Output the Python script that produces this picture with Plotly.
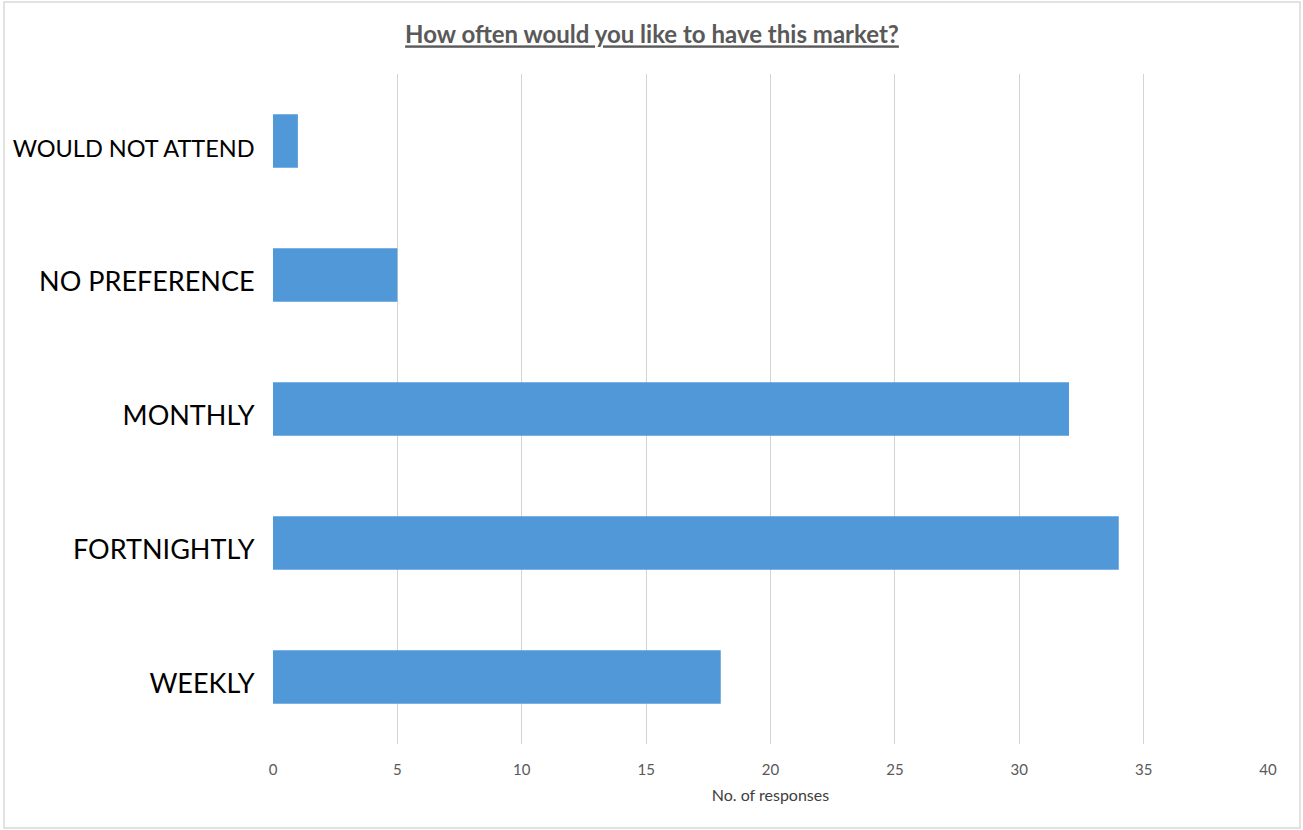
import plotly.graph_objects as go

categories = ["WEEKLY", "FORTNIGHTLY", "MONTHLY", "NO PREFERENCE", "WOULD NOT ATTEND"]
label_sizes = [27, 27, 27, 27, 23.5]
values = [18, 34, 32, 5, 1]
x_ticks = [0, 5, 10, 15, 20, 25, 30, 35, 40]
title_text = "How often would you like to have this market?"
x_title = "No. of responses"

W, H = 1303, 830
L, R, T, B = 273, 35, 74, 86
pw, ph = W - L - R, H - T - B

ticktext = [f"<span style='font-size:{s}px'>{c}</span>" for c, s in zip(categories, label_sizes)]

fig = go.Figure(go.Bar(
    x=values, y=categories, orientation="h",
    marker=dict(color="#5098D7", line=dict(width=0)),
    width=0.4,
))

fig.update_layout(
    width=W, height=H,
    margin=dict(l=L, r=R, t=T, b=B, autoexpand=False),
    paper_bgcolor="white", plot_bgcolor="white",
    showlegend=False,
    font=dict(family="Lato, 'Open Sans', sans-serif", color="#000000"),
    title=dict(text=f"<u>{title_text}</u>", x=652 / W, xanchor="center",
               y=1 - 35 / H, yanchor="middle",
               font=dict(size=24, color="#595959", family="Lato, sans-serif", weight="bold")),
)

fig.update_xaxes(
    range=[0, 40], tickvals=x_ticks, showgrid=True, gridcolor="#D4D4D4", gridwidth=1,
    zeroline=False, showline=False,
    ticks="outside", ticklen=12, tickcolor="rgba(0,0,0,0)",
    tickfont=dict(size=15, color="#595959"),
    title=dict(text=x_title, font=dict(size=16, color="#404040"), standoff=12),
)
fig.update_yaxes(
    categoryorder="array", categoryarray=categories,
    tickvals=categories, ticktext=ticktext,
    range=[-0.5, 4.5], showgrid=False, zeroline=False, showline=False,
    ticks="outside", ticklen=12, tickcolor="rgba(0,0,0,0)",
    tickfont=dict(size=27, color="#000000"),
    ticklabelshift=7,
)

# outer chart border
fig.add_shape(type="rect", xref="paper", yref="paper",
              x0=(4 - L) / pw, x1=(1300 - L) / pw,
              y0=(T + ph - 828) / ph, y1=(T + ph - 2) / ph,
              line=dict(color="#D9D9D9", width=1.5), fillcolor="rgba(0,0,0,0)", layer="below")

fig.write_html("out.html", config={"displayModeBar": False},
               post_script="document.body.style.margin='0';document.body.style.overflow='hidden';")
